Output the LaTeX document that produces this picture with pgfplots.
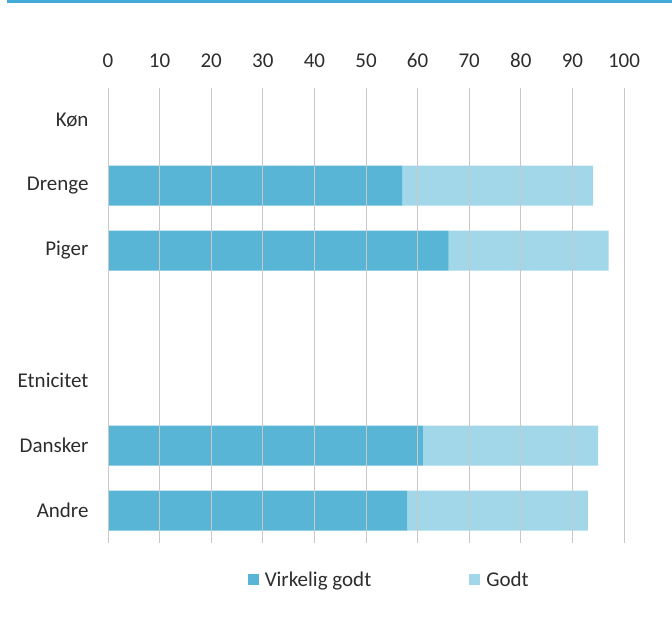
\documentclass[border=0pt]{standalone}
\usepackage{pgfplots}
\pgfplotsset{compat=1.18}
\usepackage{fontspec}
\setmainfont{Carlito}
\definecolor{darkbar}{RGB}{88,181,214}
\definecolor{lightbar}{RGB}{161,215,232}
\definecolor{topline}{RGB}{66,170,214}
\definecolor{txt}{RGB}{45,45,45}
\definecolor{gridc}{RGB}{200,200,200}

\begin{document}
\begin{tikzpicture}[x=1pt,y=1pt]
\path[use as bounding box] (0,0) rectangle (672,618);
\fill[topline] (7,615) rectangle (672,618);
\begin{axis}[
    at={(108pt,75pt)}, anchor=south west,
    scale only axis,
    width=516pt, height=455pt,
    xbar stacked,
    bar width=40pt,
    xmin=0, xmax=100,
    ymin=-0.5, ymax=6.5,
    y dir=reverse,
    xtick={0,10,...,100},
    ytick={0,...,6},
    yticklabels={Køn,Drenge,Piger,,Etnicitet,Dansker,Andre},
    xticklabel pos=upper,
    major tick length=0pt,
    axis line style={draw=none},
    xmajorgrids,
    grid style={gridc, line width=0.8pt},
    axis on top,
    font=\fontsize{21}{24}\selectfont,
    tick label style={txt},
    xticklabel style={yshift=17pt},
    yticklabel style={xshift=-16pt},
    /pgf/number format/assume math mode=true,
    legend columns=2,
    legend style={
        draw=none, at={(0.545,-0.081)}, anchor=center,
        font=\fontsize{21}{24}\selectfont, text=txt,
        /tikz/every odd column/.append style={column sep=4pt},
        /tikz/every even column/.append style={column sep=96pt},
    },
    legend image code/.code={\fill[#1] (0pt,-5.5pt) rectangle (11pt,5.5pt);},
]
\addplot[fill=darkbar, draw=none] coordinates {(57,1) (66,2) (61,5) (58,6)};
\addlegendentry{Virkelig godt}
\addplot[fill=lightbar, draw=none] coordinates {(37,1) (31,2) (34,5) (35,6)};
\addlegendentry{Godt}
\end{axis}
\end{tikzpicture}
\end{document}
